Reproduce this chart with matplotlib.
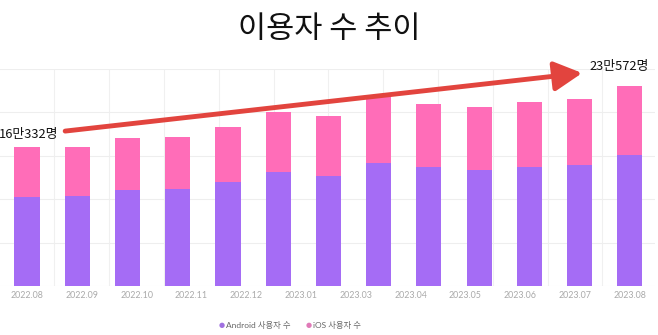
import numpy as np
import matplotlib
matplotlib.use("Agg")
import matplotlib.pyplot as plt

plt.rcParams['font.family'] = ['Noto Sans CJK KR', 'DejaVu Sans']

# monthly users (13 bars, labels skip 2023.02 as in the source chart)
android = [102000, 104000, 110500, 111700, 119300, 131300, 127000,
           141700, 136800, 133100, 137100, 139700, 151300]
ios = [58332, 56500, 60000, 59500, 63500, 68800, 68500,
       76200, 73000, 73200, 75000, 76200, 79272]
tick_labels = ["2022.08", "2022.09", "2022.10", "2022.11", "2022.12", "2023.01",
               "2023.03", "2023.04", "2023.05", "2023.06", "2023.07", "2023.08"]
start_label = "16만332명"
end_label = "23만572명"

PURPLE = "#a56cf5"
PINK = "#ff6db8"
RED = "#e2443e"

android = np.array(android)
ios = np.array(ios)
total = android + ios
x = np.arange(len(android))

fig = plt.figure(figsize=(6.58, 3.35), dpi=100)
ax = fig.add_axes([0.0, 0.1463, 655 / 658, 0.6478])

ax.bar(x, android, width=0.5, color=PURPLE, zorder=2)
ax.bar(x, ios, width=0.5, bottom=android, color=PINK, zorder=2)

ax.set_xlim(-0.537, 12.5)
ax.set_ylim(0, 250000)
ax.set_yticks(np.arange(0, 250001, 50000))
ax.yaxis.grid(True, color="#eeeeee", linewidth=0.8, zorder=0)
ax.tick_params(axis="y", left=False, labelleft=False)

ticks = np.linspace(0, 12, len(tick_labels))
step = ticks[1] - ticks[0]
for v in ticks[:-1] + step / 2:
    ax.axvline(v, color="#f0f0f0", linewidth=0.8, zorder=0)
ax.set_xticks(ticks)
ax.set_xticklabels(tick_labels, family=["Lato", "DejaVu Sans"], fontsize=6.4, color="#aaaaaa")
ax.tick_params(axis="x", length=0, pad=3.5)

for s in ax.spines.values():
    s.set_visible(False)

# trend arrow
ax.annotate("", xy=(11.05, total[0] * 1.53), xytext=(0.76, total[0] * 1.113),
            arrowprops=dict(arrowstyle="-|>,head_length=0.85,head_width=0.45",
                            mutation_scale=20, lw=3.5, color=RED,
                            shrinkA=0, shrinkB=0),
            annotation_clip=False, zorder=5)
ax.text(-0.55, total[0] * 1.085, start_label, fontsize=9.3, color="#111111",
        ha="left", va="center", clip_on=False, zorder=6)
ax.text(11.2, total[-1] * 1.095, end_label, fontsize=9.3, color="#111111",
        ha="left", va="center", clip_on=False, zorder=6)

fig.text(0.5, 0.913, "이용자 수 추이", ha="center", va="center", fontsize=22, color="#111111")

# legend
ly = 1 - 325 / 335
fig.text(0.333, ly, "●", color="#a070e0", fontsize=5, ha="left", va="center",
         family=["DejaVu Sans"])
fig.text(0.343, ly, "Android 사용자 수", color="#666666", fontsize=6, ha="left", va="center",
         family=["Lato", "Noto Sans CJK KR"])
fig.text(0.465, ly, "●", color="#e07ab8", fontsize=5, ha="left", va="center",
         family=["DejaVu Sans"])
fig.text(0.475, ly, "iOS 사용자 수", color="#666666", fontsize=6, ha="left", va="center",
         family=["Lato", "Noto Sans CJK KR"])

fig.savefig("out.png", dpi=100)
